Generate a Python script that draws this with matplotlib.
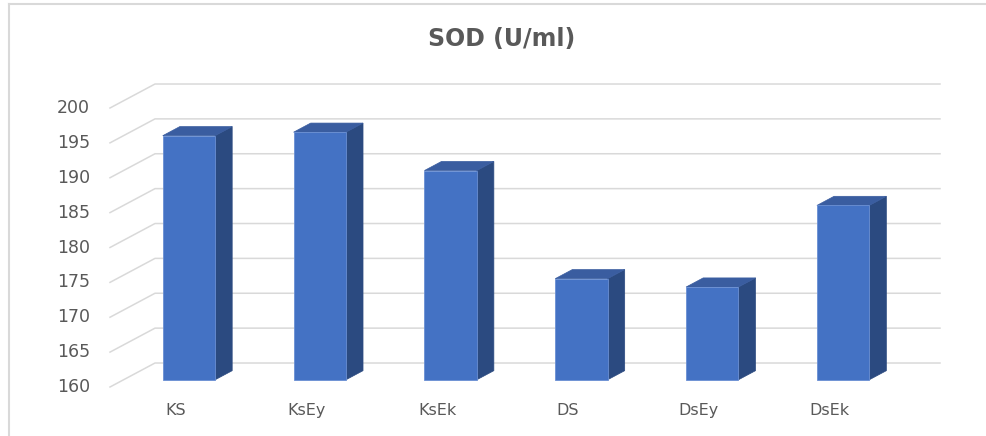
#!/usr/bin/env python3

import matplotlib

matplotlib.use("Agg")
import matplotlib.pyplot as plt
from matplotlib.lines import Line2D
from matplotlib.patches import Polygon

categories = ["KS", "KsEy", "KsEk", "DS", "DsEy", "DsEk"]
sod_values = [195.0, 195.5, 190.0, 174.5, 173.3, 185.0]
y_ticks = [160, 165, 170, 175, 180, 185, 190, 195, 200]

FRONT = "#4472C4"
TOP = "#3A5DA0"
SIDE = "#2B4A80"
GRID = "#D9D9D9"
TEXT = "#595959"

# depth of the floor in data units (category slots / value units)
DEPTH_X = 0.344
DEPTH_Y = 3.44
BAR_W = 0.4
BAR_Z0, BAR_Z1 = 0.3, 0.68

W, H = 986, 436


def proj(x, v, z):
    return (x + z * DEPTH_X, v + z * DEPTH_Y)


fig = plt.figure(figsize=(W / 100, H / 100), dpi=100)
ax = fig.add_axes([110 / W, 1 - 387 / H, 785 / W, 279 / H])
ax.set_xlim(0, len(categories))
ax.set_ylim(y_ticks[0], y_ticks[-1])
ax.axis("off")

base = y_ticks[0]
n = len(categories)

# side-wall and back-wall gridlines
for v in y_ticks:
    xs, ys = zip(proj(0, v, 0), proj(0, v, 1), proj(n, v, 1))
    ax.plot(xs, ys, color=GRID, lw=1.1, clip_on=False, zorder=1)
    ax.text(-0.153, v, str(v), ha="right", va="center", fontsize=12.5,
            color=TEXT, family="DejaVu Sans")

for i, (cat, v) in enumerate(zip(categories, sod_values)):
    x0 = i + 0.5 - BAR_W / 2
    x1 = x0 + BAR_W
    front = [proj(x0, base, BAR_Z0), proj(x1, base, BAR_Z0), proj(x1, v, BAR_Z0), proj(x0, v, BAR_Z0)]
    side = [proj(x1, base, BAR_Z0), proj(x1, base, BAR_Z1), proj(x1, v, BAR_Z1), proj(x1, v, BAR_Z0)]
    top = [proj(x0, v, BAR_Z0), proj(x1, v, BAR_Z0), proj(x1, v, BAR_Z1), proj(x0, v, BAR_Z1)]
    ax.add_patch(Polygon(side, closed=True, facecolor=SIDE, edgecolor=SIDE, lw=0.5, clip_on=False, zorder=3))
    ax.add_patch(Polygon(top, closed=True, facecolor=TOP, edgecolor=TOP, lw=0.5, clip_on=False, zorder=3))
    ax.add_patch(Polygon(front, closed=True, facecolor=FRONT, edgecolor="#6A8FD3", lw=0.6, clip_on=False, zorder=4))
    ax.text(i + 0.5, 156.7, cat, ha="center", va="center", fontsize=11.5,
            color=TEXT, family="DejaVu Sans")

fig.text(502 / W, 1 - 39 / H, "SOD (U/ml)", ha="center", va="center",
         fontsize=17, fontweight="bold", color=TEXT, family="DejaVu Sans")

# chart frame
fig.add_artist(Line2D([9 / W, 9 / W], [0, 1 - 4 / H], color=GRID, lw=1.5))
fig.add_artist(Line2D([9 / W, 1], [1 - 4 / H, 1 - 4 / H], color=GRID, lw=1.5))

fig.savefig("out.png", dpi=100, facecolor="white")
plt.close(fig)
